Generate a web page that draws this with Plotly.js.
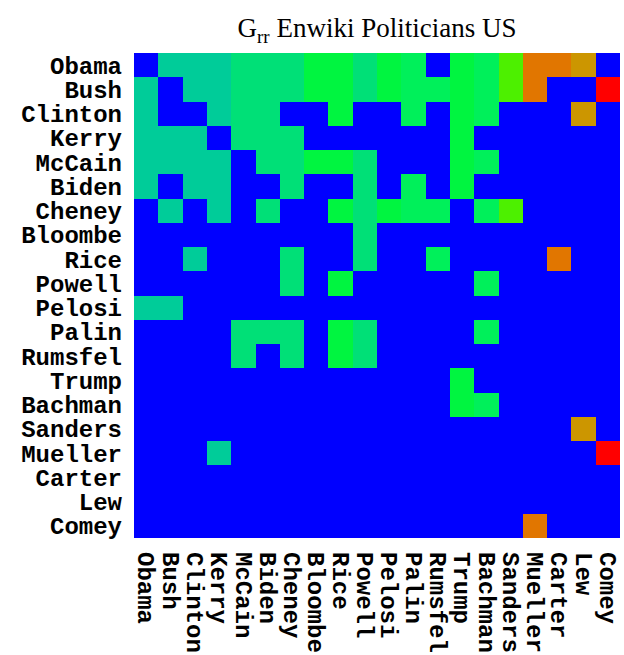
<!DOCTYPE html>
<html>
<head>
<meta charset="utf-8">
<script src="https://cdn.plot.ly/plotly-3.0.1.min.js"></script>
<style>html,body{margin:0;padding:0;background:#fff;}#chart{width:624px;height:655px;}</style>
</head>
<body>
<div id="chart"></div>
<script>
const names = ["Obama","Bush","Clinton","Kerry","McCain","Biden","Cheney","Bloombe","Rice","Powell","Pelosi","Palin","Rumsfel","Trump","Bachman","Sanders","Mueller","Carter","Lew","Comey"];

// color levels: 0 blue, 1 teal, 2 green, 3 mid green, 4 bright green, 5 yellow-green, 6 gold, 7 orange, 8 red
const levelColors = ["#0000FF","#00CC99","#00E077","#00F05A","#00F540","#4DF000","#CC9600","#E17600","#FF0000"];

const z = [
  [0,1,1,1,2,2,2,4,4,2,4,3,0,4,3,5,7,7,6,0], // Obama
  [1,0,1,1,2,2,2,4,4,2,4,3,3,4,3,5,7,0,0,8], // Bush
  [1,0,0,1,2,2,0,0,4,0,0,3,0,4,3,0,0,0,6,0], // Clinton
  [1,1,1,0,2,2,2,0,0,0,0,0,0,4,0,0,0,0,0,0], // Kerry
  [1,1,1,1,0,2,2,4,4,2,0,0,0,4,3,0,0,0,0,0], // McCain
  [1,0,1,1,0,0,2,0,0,2,0,3,0,4,0,0,0,0,0,0], // Biden
  [0,1,0,1,0,2,0,0,4,2,4,3,3,0,3,5,0,0,0,0], // Cheney
  [0,0,0,0,0,0,0,0,0,2,0,0,0,0,0,0,0,0,0,0], // Bloombe
  [0,0,1,0,0,0,2,0,0,2,0,0,3,0,0,0,0,7,0,0], // Rice
  [0,0,0,0,0,0,2,0,4,0,0,0,0,0,3,0,0,0,0,0], // Powell
  [1,1,0,0,0,0,0,0,0,0,0,0,0,0,0,0,0,0,0,0], // Pelosi
  [0,0,0,0,2,2,2,0,4,2,0,0,0,0,3,0,0,0,0,0], // Palin
  [0,0,0,0,2,0,2,0,4,2,0,0,0,0,0,0,0,0,0,0], // Rumsfel
  [0,0,0,0,0,0,0,0,0,0,0,0,0,4,0,0,0,0,0,0], // Trump
  [0,0,0,0,0,0,0,0,0,0,0,0,0,4,3,0,0,0,0,0], // Bachman
  [0,0,0,0,0,0,0,0,0,0,0,0,0,0,0,0,0,0,6,0], // Sanders
  [0,0,0,1,0,0,0,0,0,0,0,0,0,0,0,0,0,0,0,8], // Mueller
  [0,0,0,0,0,0,0,0,0,0,0,0,0,0,0,0,0,0,0,0], // Carter
  [0,0,0,0,0,0,0,0,0,0,0,0,0,0,0,0,0,0,0,0], // Lew
  [0,0,0,0,0,0,0,0,0,0,0,0,0,0,0,0,7,0,0,0]  // Comey
];

const n = levelColors.length;
const colorscale = [];
levelColors.forEach((c, i) => {
  colorscale.push([i / n, c]);
  colorscale.push([(i + 1) / n, c]);
});

const tickFont = {family: "'Liberation Mono', 'Courier New', monospace", size: 24, color: "#000", weight: "bold"};

Plotly.newPlot("chart", [{
  type: "heatmap",
  x: names,
  y: names,
  z: z,
  zmin: -0.5,
  zmax: n - 0.5,
  colorscale: colorscale,
  showscale: false
}], {
  width: 624,
  height: 655,
  margin: {l: 134, r: 4, t: 53, b: 117},
  paper_bgcolor: "#fff",
  plot_bgcolor: "#fff",
  title: {
    text: "G<sub>rr</sub> Enwiki Politicians US",
    font: {family: "'Liberation Serif', 'Times New Roman', serif", size: 27, color: "#000"},
    x: 377 / 624, xanchor: "center", xref: "container", y: 1 - 28 / 655, yanchor: "middle", yref: "container"
  },
  xaxis: {
    type: "category", tickangle: 90, tickfont: tickFont,
    tickmode: "array", tickvals: names, ticktext: names,
    showgrid: false, zeroline: false, showline: false, ticks: "", ticklen: 0,
    ticklabelstandoff: 13, automargin: false
  },
  yaxis: {
    type: "category", autorange: "reversed", tickfont: tickFont,
    tickmode: "array", tickvals: names, ticktext: names,
    showgrid: false, zeroline: false, showline: false, ticks: "", ticklen: 0,
    ticklabelstandoff: 11, automargin: false
  }
}, {displayModeBar: false, staticPlot: true});
</script>
</body>
</html>
